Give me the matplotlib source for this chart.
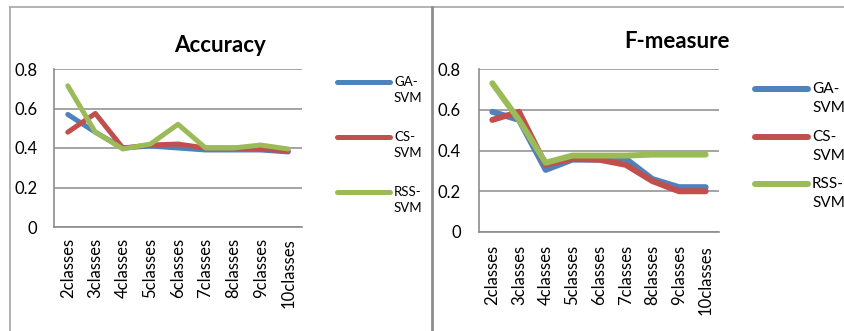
import matplotlib
matplotlib.use("Agg")
import matplotlib.pyplot as plt
from matplotlib.lines import Line2D

plt.rcParams['font.family'] = ['Lato', 'DejaVu Sans']

# Data
categories = ['2classes', '3classes', '4classes', '5classes', '6classes',
              '7classes', '8classes', '9classes', '10classes']
series_names = ['GA-\nSVM', 'CS-\nSVM', 'RSS-\nSVM']

acc_ga = [0.57, 0.48, 0.40, 0.41, 0.40, 0.39, 0.39, 0.39, 0.38]
acc_cs = [0.48, 0.575, 0.40, 0.415, 0.42, 0.40, 0.40, 0.395, 0.385]
acc_rss = [0.715, 0.48, 0.395, 0.42, 0.52, 0.40, 0.40, 0.415, 0.395]

f_ga = [0.59, 0.55, 0.305, 0.355, 0.355, 0.36, 0.26, 0.22, 0.22]
f_cs = [0.55, 0.59, 0.33, 0.36, 0.355, 0.33, 0.25, 0.20, 0.20]
f_rss = [0.73, 0.55, 0.34, 0.375, 0.375, 0.375, 0.38, 0.38, 0.38]

yticks = [0, 0.2, 0.4, 0.6, 0.8]
ytick_labels = ['0', '0.2', '0.4', '0.6', '0.8']

colors = ['#4F81BD', '#C0504D', '#9BBB59']
grid_col = '#8C8C8C'

W, H = 845, 331
fig = plt.figure(figsize=(W / 100, H / 100), dpi=100)


def fx(px):
    return px / W


def fy(py):
    return 1 - py / H


# Chart frames
frame_col = '#A6A6A6'
fig.add_artist(Line2D([fx(10), fx(10)], [fy(7), 0], color=frame_col, lw=1.2))
fig.add_artist(Line2D([fx(10), 1], [fy(7), fy(7)], color=frame_col, lw=1.2))
fig.add_artist(Line2D([fx(432), fx(432)], [fy(7), 0], color='#8C8C8C', lw=2.0))


def draw_chart(rect, title, title_xy, series, lw, ypad, xpad, fs,
               legend_x, legend_ys, legend_fs, legend_gap):
    ax = fig.add_axes(rect)
    x = range(len(categories))
    for vals, c in zip(series, colors):
        ax.plot(x, vals, color=c, lw=lw, solid_joinstyle='round',
                solid_capstyle='round')
    ax.set_xlim(-0.5, len(categories) - 0.5)
    ax.set_ylim(0, 0.8)
    ax.set_yticks(yticks)
    ax.set_yticklabels(ytick_labels)
    ax.set_xticks(list(x))
    ax.set_xticklabels(categories, rotation=90)
    ax.tick_params(axis='y', length=0, pad=ypad, labelsize=fs)
    ax.tick_params(axis='x', length=0, pad=xpad, labelsize=fs)
    ax.grid(axis='y', color=grid_col, lw=1.1)
    ax.set_axisbelow(True)
    for s in ['top', 'right']:
        ax.spines[s].set_visible(False)
    for s in ['left', 'bottom']:
        ax.spines[s].set_color(grid_col)
        ax.spines[s].set_linewidth(1.2)
    fig.text(fx(title_xy[0]), fy(title_xy[1]), title, ha='center', va='center',
             fontsize=16, fontweight='bold')

    # legend keys, text in two lines beside each key
    for name, c, ly in zip(series_names, colors, legend_ys):
        fig.add_artist(Line2D([fx(legend_x), fx(legend_x + 53)], [fy(ly), fy(ly)],
                              color=c, lw=lw, solid_capstyle='round'))
        first, second = name.split('\n')
        fig.text(fx(legend_x + 57), fy(ly), first, ha='left', va='center',
                 fontsize=legend_fs)
        fig.text(fx(legend_x + 57), fy(ly + legend_gap), second, ha='left',
                 va='center', fontsize=legend_fs)
    return ax


draw_chart([fx(54), fy(227), fx(302) - fx(54), fy(69) - fy(227)],
           'Accuracy', (220, 45), [acc_ga, acc_cs, acc_rss], 3.6,
           12, 8, 12, 337, [82, 137, 192], 9.5, 16)
draw_chart([fx(479), fy(232), fx(719) - fx(479), fy(69) - fy(232)],
           'F-measure', (677, 42), [f_ga, f_cs, f_rss], 4.3,
           13, 9.5, 12, 755, [89, 137, 184], 11, 19)

fig.savefig('out.png', dpi=100)
